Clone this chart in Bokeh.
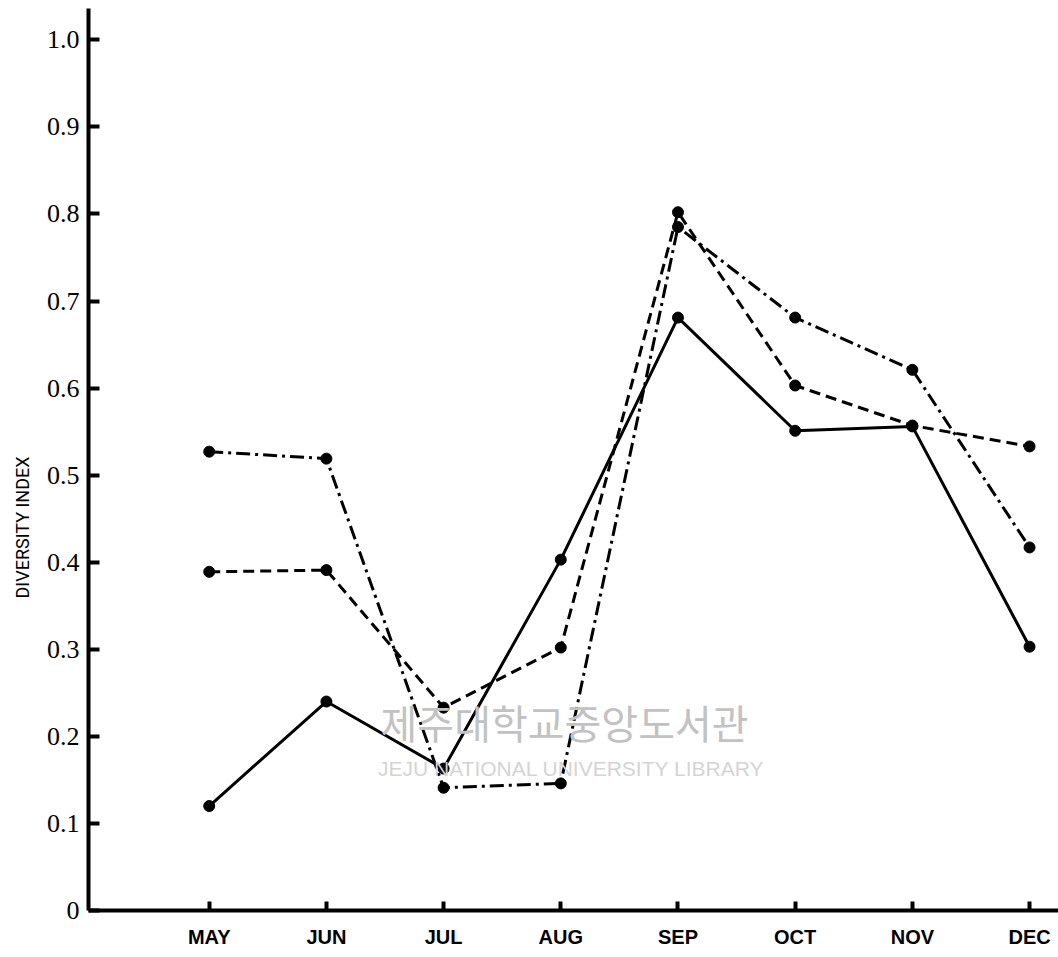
from bokeh.plotting import figure
from bokeh.models import Range1d, FixedTicker, Label, Title
from bokeh.embed import file_html
from bokeh.resources import INLINE

months = ["MAY", "JUN", "JUL", "AUG", "SEP", "OCT", "NOV", "DEC"]
solid = [0.12, 0.24, 0.163, 0.403, 0.681, 0.551, 0.556, 0.303]
dashed = [0.389, 0.391, 0.233, 0.302, 0.802, 0.603, 0.557, 0.533]
dashdot = [0.527, 0.519, 0.141, 0.146, 0.785, 0.681, 0.621, 0.417]
y_ticks = [0.0, 0.1, 0.2, 0.3, 0.4, 0.5, 0.6, 0.7, 0.8, 0.9, 1.0]
y_tick_labels = ["0", "0.1", "0.2", "0.3", "0.4", "0.5", "0.6", "0.7", "0.8", "0.9", "1.0"]
y_title = "DIVERSITY INDEX"
wm_korean = "제주대학교중앙도서관"
wm_english = "JEJU NATIONAL UNIVERSITY  LIBRARY"

xs = list(range(1, len(months) + 1))

p = figure(frame_width=970, frame_height=902, output_backend="svg", toolbar_location=None,
           x_range=Range1d(-0.03, 8.247), y_range=Range1d(0, 1.036),
           min_border_left=88, min_border_right=0, min_border_top=8, min_border_bottom=30)
p.outline_line_color = None
p.background_fill_color = "white"
p.border_fill_color = "white"
p.xgrid.grid_line_color = None
p.ygrid.grid_line_color = None

# watermark
p.add_layout(Label(x=2.462, y=0.217, text=wm_korean, text_font="Noto Sans CJK KR",
                   text_font_size="40px", text_color="#c2c2c2", text_baseline="middle",
                   text_align="left"))
p.add_layout(Label(x=2.44, y=0.163, text=wm_english, text_font="Liberation Sans",
                   text_font_size="21px", text_color="#d4d4d4", text_baseline="middle",
                   text_align="left"))

# series
p.line(xs, solid, line_color="black", line_width=3)
p.line(xs, dashed, line_color="black", line_width=3, line_dash="11 6")
p.line(xs, dashdot, line_color="black", line_width=3, line_dash="14 5 3 5")
for ys in (solid, dashed, dashdot):
    p.scatter(xs, ys, marker="circle", size=11, fill_color="black", line_color="black")

# x axis
p.xaxis.ticker = FixedTicker(ticks=xs)
p.xaxis.major_label_overrides = {x: m for x, m in zip(xs, months)}
p.xaxis.axis_line_width = 4
p.xaxis.axis_line_color = "black"
p.xaxis.major_tick_in = 9
p.xaxis.major_tick_out = 0
p.xaxis.major_tick_line_width = 4
p.xaxis.minor_tick_line_color = None
p.xaxis.major_label_standoff = 15
p.xaxis.major_label_text_font = "Liberation Sans"
p.xaxis.major_label_text_font_style = "bold"
p.xaxis.major_label_text_font_size = "20px"
p.xaxis.major_label_text_color = "black"

# y axis
p.yaxis.ticker = FixedTicker(ticks=y_ticks)
p.yaxis.major_label_overrides = {t: l for t, l in zip(y_ticks, y_tick_labels)}
p.yaxis.axis_line_width = 4
p.yaxis.axis_line_color = "black"
p.yaxis.major_tick_in = 11
p.yaxis.major_tick_out = 0
p.yaxis.major_tick_line_width = 4
p.yaxis.minor_tick_line_color = None
p.yaxis.major_label_standoff = 9
p.yaxis.major_label_text_font = "Liberation Serif"
p.yaxis.major_label_text_font_size = "26px"
p.yaxis.major_label_text_color = "black"

p.add_layout(Title(text=y_title, align="left", offset=312, text_font="Roboto",
                   text_font_size="18px", text_font_style="normal", text_color="black",
                   vertical_align="top", standoff=18), "left")

open("out.html", "w").write(file_html(p, INLINE))
